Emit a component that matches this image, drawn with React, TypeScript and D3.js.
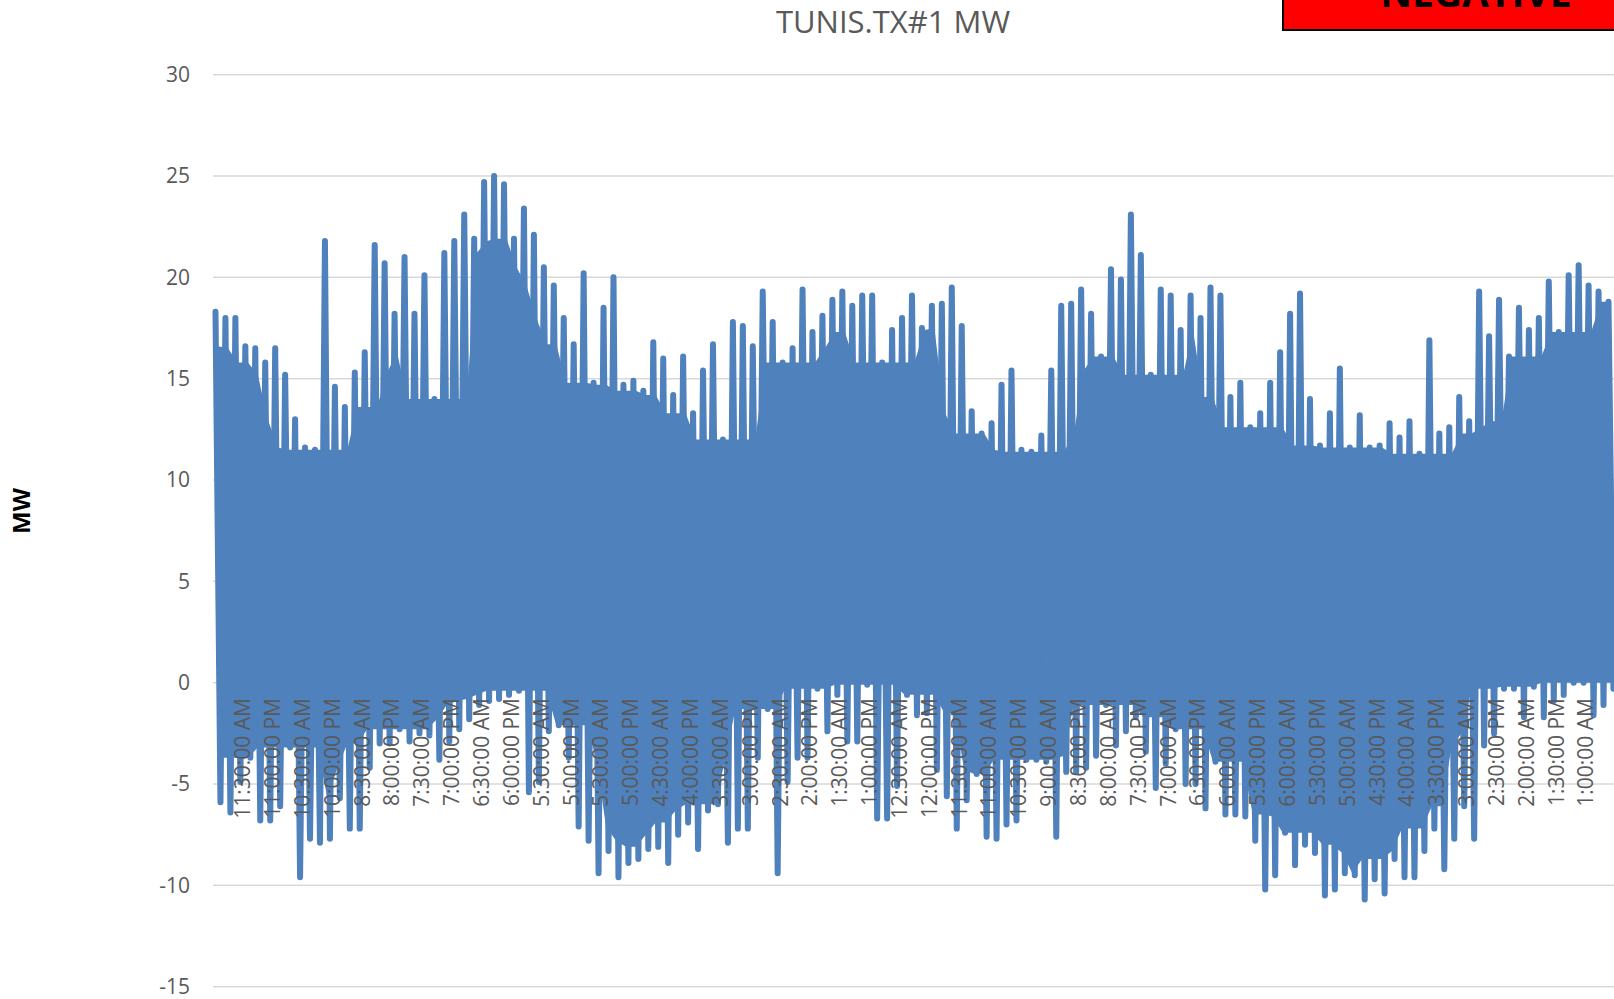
import React, { useEffect, useRef } from 'react';
import * as d3 from 'd3';

const TITLE = 'TUNIS.TX#1 MW';
const Y_TICKS = [-15, -10, -5, 0, 5, 10, 15, 20, 25, 30];

const TIME_LABELS = [
  '11:30:00 AM', '11:00:00 PM', '10:30:00 AM', '10:00:00 PM', '8:30:00 AM', '8:00:00 PM',
  '7:30:00 AM', '7:00:00 PM', '6:30:00 AM', '6:00:00 PM', '5:30:00 AM', '5:00:00 PM',
  '5:30:00 AM', '5:00:00 PM', '4:30:00 AM', '4:00:00 PM', '3:30:00 AM', '3:00:00 PM',
  '2:30:00 AM', '2:00:00 PM', '1:30:00 AM', '1:00:00 PM', '12:30:00 AM', '12:00:00 PM',
  '11:30:00 PM', '11:00:00 AM', '10:30:00 PM', '9:00:00 AM', '8:30:00 PM', '8:00:00 AM',
  '7:30:00 PM', '7:00:00 AM', '6:30:00 PM', '6:00:00 AM', '5:30:00 PM', '6:00:00 AM',
  '5:30:00 PM', '5:00:00 AM', '4:30:00 PM', '4:00:00 AM', '3:30:00 PM', '3:00:00 AM',
  '2:30:00 PM', '2:00:00 AM', '1:30:00 PM', '1:00:00 AM',
];

// peak MW in each slice of the trace
const HIGHS = [
  18.3, 18.0, 18.0, 16.6, 16.5, 15.8, 16.5, 15.2, 13.0, 11.6,
  11.5, 21.8, 14.6, 13.6, 15.3, 16.3, 21.6, 20.7, 18.2, 21.0,
  18.2, 20.1, 14.0, 21.2, 21.8, 23.1, 21.9, 24.7, 25.0, 24.6,
  21.9, 23.4, 22.1, 20.5, 19.6, 18.0, 16.7, 20.2, 14.8, 18.5,
  20.0, 14.7, 14.9, 14.4, 16.8, 16.0, 14.2, 16.1, 13.3, 15.4,
  16.7, 12.0, 17.8, 17.6, 16.6, 19.3, 17.8, 15.8, 16.5, 19.4,
  17.3, 18.1, 18.9, 19.3, 18.6, 19.1, 19.1, 15.8, 17.4, 18.0,
  19.1, 17.5, 18.6, 18.7, 19.5, 17.6, 13.4, 12.3, 12.8, 14.7,
  15.4, 11.5, 11.4, 12.2, 15.4, 18.6, 18.7, 19.4, 18.2, 16.1,
  20.4, 19.9, 23.1, 21.1, 15.2, 19.4, 19.1, 17.4, 19.1, 18.0,
  19.5, 19.1, 14.1, 14.8, 12.6, 13.3, 14.8, 16.3, 18.2, 19.2,
  14.0, 11.7, 13.3, 15.5, 11.6, 13.2, 11.6, 11.7, 12.8, 12.1,
  12.9, 11.3, 16.9, 12.3, 12.6, 14.1, 12.9, 19.3, 17.1, 18.9,
  16.1, 18.5, 17.4, 18.0, 19.8, 17.3, 20.1, 20.6, 19.6, 19.3,
  18.8,
];

// lowest MW in each slice of the trace
const LOWS = [
  -5.9, -6.4, -4.9, -3.7, -6.8, -6.8, -6.1, -3.2, -9.6, -7.7,
  -7.9, -7.7, -5.7, -7.2, -7.2, -4.2, -3.0, -3.0, -2.3, -2.9,
  -2.5, -2.6, -3.8, -2.9, -2.3, -1.8, -1.1, -0.9, -0.8, -0.6,
  -0.4, -5.4, -4.9, -2.4, -2.1, -3.7, -7.1, -7.8, -9.4, -8.3,
  -9.6, -8.9, -8.7, -8.2, -8.1, -8.9, -7.5, -6.9, -8.2, -6.3,
  -6.0, -7.9, -7.2, -7.2, -3.7, -1.3, -9.4, -4.9, -3.7, -3.7,
  -0.3, -2.4, -0.6, -2.9, -2.9, -0.1, -6.7, -6.7, -5.1, -0.6,
  -1.6, -1.5, -4.3, -5.6, -7.2, -5.8, -4.5, -7.6, -7.7, -7.0,
  -6.8, -3.8, -3.8, -3.9, -7.6, -4.4, -4.4, -4.2, -3.6, -1.1,
  -3.1, -2.4, -1.7, -3.4, -5.2, -4.0, -2.3, -5.0, -5.0, -6.2,
  -3.9, -6.5, -6.5, -6.6, -7.8, -10.2, -9.5, -7.4, -9.0, -8.0,
  -8.4, -10.5, -10.2, -9.4, -9.5, -10.7, -9.7, -10.4, -8.7, -9.6,
  -9.6, -8.3, -7.2, -9.2, -7.7, -6.1, -7.7, -3.1, -2.5, -0.3,
  -0.3, -1.7, -0.2, -1.7, -0.9, -0.6, 0.0, 0.0, -1.6, -1.1,
  -0.3,
];

const LABEL_EVERY = 3; // slices between time labels

const App = () => {
  const svgRef = useRef<SVGSVGElement>(null);

  useEffect(() => {
    const svg = d3.select(svgRef.current);
    svg.selectAll('*').remove();

    const left = 213;
    const sliceW = 9.95;
    const blue = '#4F81BD';
    const grey = '#595959';
    const font = '"Open Sans", sans-serif';

    const x = d3
      .scaleLinear()
      .domain([0, HIGHS.length])
      .range([left, left + HIGHS.length * sliceW]);
    const y = d3.scaleLinear().domain([-15, 30]).range([986.7, 74.7]);

    // gridlines
    svg
      .append('g')
      .selectAll('line')
      .data(Y_TICKS)
      .join('line')
      .attr('x1', left)
      .attr('x2', 1614)
      .attr('y1', (d) => y(d))
      .attr('y2', (d) => y(d))
      .attr('stroke', '#D9D9D9')
      .attr('stroke-width', 1.5);

    svg
      .append('g')
      .selectAll('text')
      .data(Y_TICKS)
      .join('text')
      .attr('x', 190)
      .attr('y', (d) => y(d))
      .attr('dy', '0.35em')
      .attr('text-anchor', 'end')
      .attr('font-family', font)
      .attr('font-size', 21)
      .attr('fill', grey)
      .text((d) => d);

    // dense trace: solid core (lowest peak / highest dip nearby) + the spikes
    const core = HIGHS.map((_, i) => {
      const lo = Math.max(0, i - 3);
      const hi = Math.min(HIGHS.length, i + 4);
      return {
        u: i + 0.5,
        top: d3.min(HIGHS.slice(lo, hi)) as number,
        bottom: d3.max(LOWS.slice(lo, hi)) as number,
      };
    });

    const area = d3
      .area<{ u: number; top: number; bottom: number }>()
      .x((d) => x(d.u))
      .y0((d) => y(d.bottom))
      .y1((d) => y(d.top));

    svg.append('path').datum(core).attr('d', area).attr('fill', blue);

    const points = HIGHS.flatMap((h, i) => [
      { u: i + 0.25, v: h },
      { u: i + 0.75, v: LOWS[i] },
    ]);

    const line = d3
      .line<{ u: number; v: number }>()
      .x((d) => x(d.u))
      .y((d) => y(d.v));

    svg
      .append('path')
      .datum(points)
      .attr('d', line)
      .attr('fill', 'none')
      .attr('stroke', blue)
      .attr('stroke-width', 6)
      .attr('stroke-linejoin', 'round')
      .attr('stroke-linecap', 'round');

    // time labels, drawn over the trace
    svg
      .append('g')
      .selectAll('text')
      .data(TIME_LABELS)
      .join('text')
      .attr('transform', (_, i) => `translate(${x(LABEL_EVERY * (i + 1))}, 698) rotate(-90)`)
      .attr('dy', '0.35em')
      .attr('text-anchor', 'end')
      .attr('font-family', font)
      .attr('font-size', 21)
      .attr('fill', grey)
      .text((d) => d);

    svg
      .append('text')
      .attr('x', 893)
      .attr('y', 33)
      .attr('text-anchor', 'middle')
      .attr('font-family', font)
      .attr('font-size', 31)
      .attr('fill', grey)
      .text(TITLE);

    svg
      .append('text')
      .attr('transform', 'translate(22, 511) rotate(-90)')
      .attr('dy', '0.35em')
      .attr('text-anchor', 'middle')
      .attr('font-family', font)
      .attr('font-size', 24)
      .attr('font-weight', 'bold')
      .attr('fill', '#000')
      .text('MW');

    // red "NEGATIVE" box, cut off at the top edge as in the source
    svg
      .append('rect')
      .attr('x', 1283)
      .attr('y', -20)
      .attr('width', 400)
      .attr('height', 50)
      .attr('fill', '#FF0000')
      .attr('stroke', '#000')
      .attr('stroke-width', 2);

    svg
      .append('text')
      .attr('x', 1476)
      .attr('y', 7)
      .attr('text-anchor', 'middle')
      .attr('font-family', font)
      .attr('font-size', 39)
      .attr('font-weight', 'bold')
      .attr('fill', '#000')
      .text('NEGATIVE');
  }, []);

  return (
    <svg
      ref={svgRef}
      width={1614}
      height={999}
      style={{ position: 'absolute', left: 0, top: 0, background: '#fff' }}
    />
  );
};

export default App;
